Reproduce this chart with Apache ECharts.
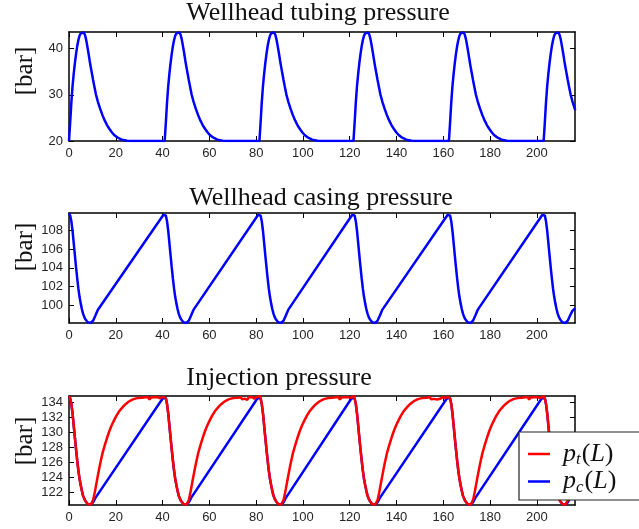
<!DOCTYPE html>
<html>
<head>
<meta charset="utf-8">
<script src="https://cdn.jsdelivr.net/npm/echarts@6/dist/echarts.min.js"></script>
<style>
  html, body { margin: 0; padding: 0; background: #fff; }
  #chart { width: 639px; height: 529px; }
</style>
</head>
<body>
<div id="chart"></div>
<script>
// Gas-lift well simulation: wellhead and injection pressures over time.

// Tick positions
const timeTicks = [0, 20, 40, 60, 80, 100, 120, 140, 160, 180, 200];
const tubingTicks = [20, 30, 40];
const casingTicks = [100, 102, 104, 106, 108];
const injectionTicks = [122, 124, 126, 128, 130, 132, 134];

// Panel titles
const panelTitles = ['Wellhead tubing pressure', 'Wellhead casing pressure', 'Injection pressure'];

// Wellhead tubing pressure [time, bar]
const tubingPressure = [
  [0,20],[0.5,24],[1,28.3],[1.5,31.8],[2,34.5],[2.5,36.8],[3,38.8],[3.5,40.5],[4,41.8],[4.5,42.8],[5,43.3],[5.4,43.55],[5.8,43.6],
  [6.3,43.5],[6.8,43.0],[7.3,42.0],[7.8,40.6],[8.3,39.1],[8.8,37.5],[9.3,36.0],[9.8,34.6],[10.3,33.2],[10.8,31.9],[11.5,30.1],
  [12.3,28.6],[13.3,27.0],[14.3,25.6],[15.3,24.4],[16.3,23.4],[17.3,22.6],[18.3,21.9],[19.3,21.3],[20.3,20.9],[21.3,20.6],
  [22.3,20.35],[23.3,20.2],[24.8,20.05],[26.8,20.0],
  [40.9,20],[41.4,24],[41.9,28.3],[42.4,31.8],[42.9,34.5],[43.4,36.8],[43.9,38.8],[44.4,40.5],[44.9,41.8],[45.4,42.8],[45.9,43.3],[46.3,43.55],[46.7,43.6],
  [47.2,43.5],[47.7,43.0],[48.2,42.0],[48.7,40.6],[49.2,39.1],[49.7,37.5],[50.2,36.0],[50.7,34.6],[51.2,33.2],[51.7,31.9],[52.4,30.1],
  [53.2,28.6],[54.2,27.0],[55.2,25.6],[56.2,24.4],[57.2,23.4],[58.2,22.6],[59.2,21.9],[60.2,21.3],[61.2,20.9],[62.2,20.6],
  [63.2,20.35],[64.2,20.2],[65.7,20.05],[67.7,20.0],
  [81.4,20],[81.9,24],[82.4,28.3],[82.9,31.8],[83.4,34.5],[83.9,36.8],[84.4,38.8],[84.9,40.5],[85.4,41.8],[85.9,42.8],[86.4,43.3],[86.8,43.55],[87.2,43.6],
  [87.7,43.5],[88.2,43.0],[88.7,42.0],[89.2,40.6],[89.7,39.1],[90.2,37.5],[90.7,36.0],[91.2,34.6],[91.7,33.2],[92.2,31.9],[92.9,30.1],
  [93.7,28.6],[94.7,27.0],[95.7,25.6],[96.7,24.4],[97.7,23.4],[98.7,22.6],[99.7,21.9],[100.7,21.3],[101.7,20.9],[102.7,20.6],
  [103.7,20.35],[104.7,20.2],[106.2,20.05],[108.2,20.0],
  [121.6,20],[122.1,24],[122.6,28.3],[123.1,31.8],[123.6,34.5],[124.1,36.8],[124.6,38.8],[125.1,40.5],[125.6,41.8],[126.1,42.8],[126.6,43.3],[127.0,43.55],[127.4,43.6],
  [127.9,43.5],[128.4,43.0],[128.9,42.0],[129.4,40.6],[129.9,39.1],[130.4,37.5],[130.9,36.0],[131.4,34.6],[131.9,33.2],[132.4,31.9],[133.1,30.1],
  [133.9,28.6],[134.9,27.0],[135.9,25.6],[136.9,24.4],[137.9,23.4],[138.9,22.6],[139.9,21.9],[140.9,21.3],[141.9,20.9],[142.9,20.6],
  [143.9,20.35],[144.9,20.2],[146.4,20.05],[148.4,20.0],
  [162.4,20],[162.9,24],[163.4,28.3],[163.9,31.8],[164.4,34.5],[164.9,36.8],[165.4,38.8],[165.9,40.5],[166.4,41.8],[166.9,42.8],[167.4,43.3],[167.8,43.55],[168.2,43.6],
  [168.7,43.5],[169.2,43.0],[169.7,42.0],[170.2,40.6],[170.7,39.1],[171.2,37.5],[171.7,36.0],[172.2,34.6],[172.7,33.2],[173.2,31.9],[173.9,30.1],
  [174.7,28.6],[175.7,27.0],[176.7,25.6],[177.7,24.4],[178.7,23.4],[179.7,22.6],[180.7,21.9],[181.7,21.3],[182.7,20.9],[183.7,20.6],
  [184.7,20.35],[185.7,20.2],[187.2,20.05],[189.2,20.0],
  [202.9,20],[203.4,24],[203.9,28.3],[204.4,31.8],[204.9,34.5],[205.4,36.8],[205.9,38.8],[206.4,40.5],[206.9,41.8],[207.4,42.8],[207.9,43.3],[208.3,43.55],[208.7,43.6],
  [209.2,43.5],[209.7,43.0],[210.2,42.0],[210.7,40.6],[211.2,39.1],[211.7,37.5],[212.2,36.0],[212.7,34.6],[213.2,33.2],[213.7,31.9],[214.4,30.1],
  [215.2,28.6],[216.2,27.0],[216.4,26.7]
];

// Wellhead casing pressure [time, bar]
const casingPressure = [
  [0,109.85],[0.5,109.6],[1,109.0],[1.5,108.0],[2,106.7],[2.5,105.4],[3,104.1],[3.5,102.9],[4,101.8],[4.5,100.9],[5,100.2],[5.5,99.6],
  [6,99.1],[6.5,98.75],[7,98.5],[7.5,98.3],[8,98.18],[8.5,98.12],[9.3,98.1],[10.3,98.35],[11.3,98.9],[12.3,99.5],[40.3,109.65],[40.9,109.85],
  [41.4,109.6],[41.9,109.0],[42.4,108.0],[42.9,106.7],[43.4,105.4],[43.9,104.1],[44.4,102.9],[44.9,101.8],[45.4,100.9],[45.9,100.2],[46.4,99.6],
  [46.9,99.1],[47.4,98.75],[47.9,98.5],[48.4,98.3],[48.9,98.18],[49.4,98.12],[50.2,98.1],[51.2,98.35],[52.2,98.9],[53.2,99.5],[80.8,109.65],[81.4,109.85],
  [81.9,109.6],[82.4,109.0],[82.9,108.0],[83.4,106.7],[83.9,105.4],[84.4,104.1],[84.9,102.9],[85.4,101.8],[85.9,100.9],[86.4,100.2],[86.9,99.6],
  [87.4,99.1],[87.9,98.75],[88.4,98.5],[88.9,98.3],[89.4,98.18],[89.9,98.12],[90.7,98.1],[91.7,98.35],[92.7,98.9],[93.7,99.5],[121.0,109.65],[121.6,109.85],
  [122.1,109.6],[122.6,109.0],[123.1,108.0],[123.6,106.7],[124.1,105.4],[124.6,104.1],[125.1,102.9],[125.6,101.8],[126.1,100.9],[126.6,100.2],[127.1,99.6],
  [127.6,99.1],[128.1,98.75],[128.6,98.5],[129.1,98.3],[129.6,98.18],[130.1,98.12],[130.9,98.1],[131.9,98.35],[132.9,98.9],[133.9,99.5],[161.8,109.65],[162.4,109.85],
  [162.9,109.6],[163.4,109.0],[163.9,108.0],[164.4,106.7],[164.9,105.4],[165.4,104.1],[165.9,102.9],[166.4,101.8],[166.9,100.9],[167.4,100.2],[167.9,99.6],
  [168.4,99.1],[168.9,98.75],[169.4,98.5],[169.9,98.3],[170.4,98.18],[170.9,98.12],[171.7,98.1],[172.7,98.35],[173.7,98.9],[174.7,99.5],[202.3,109.65],[202.9,109.85],
  [203.4,109.6],[203.9,109.0],[204.4,108.0],[204.9,106.7],[205.4,105.4],[205.9,104.1],[206.4,102.9],[206.9,101.8],[207.4,100.9],[207.9,100.2],[208.4,99.6],
  [208.9,99.1],[209.4,98.75],[209.9,98.5],[210.4,98.3],[210.9,98.18],[211.4,98.12],[212.2,98.1],[213.2,98.35],[214.2,98.9],[215.2,99.4],[216.4,99.7]
];

// Injection pressure, casing side p_c(L) [time, bar]
const injectionCasing = [
  [0,134.8],[0.5,134.5],[1,133.75],[1.5,132.55],[2,130.95],[2.5,129.35],[3,127.75],[3.5,126.3],[4,124.95],[4.5,123.85],[5,123.0],[5.5,122.25],
  [6,121.6],[6.5,121.2],[7,120.9],[7.5,120.65],[8,120.5],[8.5,120.43],[9.3,120.4],[10.3,120.7],[11.3,121.3],[40.3,134.6],[40.9,134.8],
  [41.4,134.5],[41.9,133.75],[42.4,132.55],[42.9,130.95],[43.4,129.35],[43.9,127.75],[44.4,126.3],[44.9,124.95],[45.4,123.85],[45.9,123.0],[46.4,122.25],
  [46.9,121.6],[47.4,121.2],[47.9,120.9],[48.4,120.65],[48.9,120.5],[49.4,120.43],[50.2,120.4],[51.2,120.7],[52.2,121.3],[80.8,134.6],[81.4,134.8],
  [81.9,134.5],[82.4,133.75],[82.9,132.55],[83.4,130.95],[83.9,129.35],[84.4,127.75],[84.9,126.3],[85.4,124.95],[85.9,123.85],[86.4,123.0],[86.9,122.25],
  [87.4,121.6],[87.9,121.2],[88.4,120.9],[88.9,120.65],[89.4,120.5],[89.9,120.43],[90.7,120.4],[91.7,120.7],[92.7,121.3],[121.0,134.6],[121.6,134.8],
  [122.1,134.5],[122.6,133.75],[123.1,132.55],[123.6,130.95],[124.1,129.35],[124.6,127.75],[125.1,126.3],[125.6,124.95],[126.1,123.85],[126.6,123.0],[127.1,122.25],
  [127.6,121.6],[128.1,121.2],[128.6,120.9],[129.1,120.65],[129.6,120.5],[130.1,120.43],[130.9,120.4],[131.9,120.7],[132.9,121.3],[161.8,134.6],[162.4,134.8],
  [162.9,134.5],[163.4,133.75],[163.9,132.55],[164.4,130.95],[164.9,129.35],[165.4,127.75],[165.9,126.3],[166.4,124.95],[166.9,123.85],[167.4,123.0],[167.9,122.25],
  [168.4,121.6],[168.9,121.2],[169.4,120.9],[169.9,120.65],[170.4,120.5],[170.9,120.43],[171.7,120.4],[172.7,120.7],[173.7,121.3],[202.3,134.6],[202.9,134.8],
  [203.4,134.5],[203.9,133.75],[204.4,132.55],[204.9,130.95],[205.4,129.35],[205.9,127.75],[206.4,126.3],[206.9,124.95],[207.4,123.85],[207.9,123.0],[208.4,122.25],
  [208.9,121.6],[209.4,121.2],[209.9,120.9],[210.4,120.65],[210.9,120.5],[211.4,120.43],[212.2,120.4],[213.2,120.7],[214.2,121.3],[216.4,122.3]
];

// Injection pressure, tubing side p_t(L) [time, bar]
const injectionTubing = [
  [0,134.8],[0.5,134.5],[1,133.75],[1.5,132.55],[2,130.95],[2.5,129.35],[3,127.75],[3.5,126.3],[4,124.95],[4.5,123.85],[5,123.0],[5.5,122.25],
  [6,121.6],[6.5,121.2],[7,120.9],[7.5,120.65],[8,120.5],[8.5,120.43],[9.3,120.4],
  [9.8,120.55],[10.3,121.0],[10.8,121.7],[11.3,122.5],[12.3,124.2],[13.3,125.8],[14.3,127.2],[15.3,128.3],[16.3,129.3],[17.3,130.2],[18.3,130.95],
  [19.3,131.6],[20.3,132.2],[21.3,132.7],[22.3,133.1],[23.3,133.45],[24.3,133.75],[25.3,134.0],[26.3,134.2],[27.3,134.35],[28.3,134.45],[29.3,134.52],[31.3,134.58],
  [32,134.38],[32.6,134.62],[33.2,134.4],[33.8,134.65],[34.4,134.32],[35,134.6],[35.6,134.45],[36.3,134.64],[37.1,134.42],[38,134.62],[39,134.5],[40.2,134.7],[40.9,134.8],
  [41.4,134.5],[41.9,133.75],[42.4,132.55],[42.9,130.95],[43.4,129.35],[43.9,127.75],[44.4,126.3],[44.9,124.95],[45.4,123.85],[45.9,123.0],[46.4,122.25],
  [46.9,121.6],[47.4,121.2],[47.9,120.9],[48.4,120.65],[48.9,120.5],[49.4,120.43],[50.2,120.4],
  [50.7,120.55],[51.2,121.0],[51.7,121.7],[52.2,122.5],[53.2,124.2],[54.2,125.8],[55.2,127.2],[56.2,128.3],[57.2,129.3],[58.2,130.2],[59.2,130.95],
  [60.2,131.6],[61.2,132.2],[62.2,132.7],[63.2,133.1],[64.2,133.45],[65.2,133.75],[66.2,134.0],[67.2,134.2],[68.2,134.35],[69.2,134.45],[70.2,134.52],[72.2,134.58],
  [73,134.4],[73.5,134.62],[74,134.35],[74.5,134.6],[75,134.45],[75.6,134.65],[76.2,134.3],[76.8,134.6],[77.5,134.5],[78.3,134.66],[79.2,134.45],[80.1,134.65],[80.8,134.7],[81.4,134.8],
  [81.9,134.5],[82.4,133.75],[82.9,132.55],[83.4,130.95],[83.9,129.35],[84.4,127.75],[84.9,126.3],[85.4,124.95],[85.9,123.85],[86.4,123.0],[86.9,122.25],
  [87.4,121.6],[87.9,121.2],[88.4,120.9],[88.9,120.65],[89.4,120.5],[89.9,120.43],[90.7,120.4],
  [91.2,120.55],[91.7,121.0],[92.2,121.7],[92.7,122.5],[93.7,124.2],[94.7,125.8],[95.7,127.2],[96.7,128.3],[97.7,129.3],[98.7,130.2],[99.7,130.95],
  [100.7,131.6],[101.7,132.2],[102.7,132.7],[103.7,133.1],[104.7,133.45],[105.7,133.75],[106.7,134.0],[107.7,134.2],[108.7,134.35],[109.7,134.45],[110.7,134.52],[112.7,134.58],
  [113.4,134.38],[114,134.62],[114.6,134.4],[115.2,134.66],[115.8,134.32],[116.4,134.6],[117,134.45],[117.8,134.64],[118.6,134.42],[119.5,134.62],[120.5,134.55],[121.1,134.7],[121.6,134.8],
  [122.1,134.5],[122.6,133.75],[123.1,132.55],[123.6,130.95],[124.1,129.35],[124.6,127.75],[125.1,126.3],[125.6,124.95],[126.1,123.85],[126.6,123.0],[127.1,122.25],
  [127.6,121.6],[128.1,121.2],[128.6,120.9],[129.1,120.65],[129.6,120.5],[130.1,120.43],[130.9,120.4],
  [131.4,120.55],[131.9,121.0],[132.4,121.7],[132.9,122.5],[133.9,124.2],[134.9,125.8],[135.9,127.2],[136.9,128.3],[137.9,129.3],[138.9,130.2],[139.9,130.95],
  [140.9,131.6],[141.9,132.2],[142.9,132.7],[143.9,133.1],[144.9,133.45],[145.9,133.75],[146.9,134.0],[147.9,134.2],[148.9,134.35],[149.9,134.45],[150.9,134.52],[152.9,134.58],
  [153.6,134.4],[154.2,134.64],[154.8,134.36],[155.4,134.6],[156,134.42],[156.7,134.66],[157.4,134.34],[158.1,134.6],[158.9,134.47],[159.8,134.65],[160.8,134.5],[161.8,134.7],[162.4,134.8],
  [162.9,134.5],[163.4,133.75],[163.9,132.55],[164.4,130.95],[164.9,129.35],[165.4,127.75],[165.9,126.3],[166.4,124.95],[166.9,123.85],[167.4,123.0],[167.9,122.25],
  [168.4,121.6],[168.9,121.2],[169.4,120.9],[169.9,120.65],[170.4,120.5],[170.9,120.43],[171.7,120.4],
  [172.2,120.55],[172.7,121.0],[173.2,121.7],[173.7,122.5],[174.7,124.2],[175.7,125.8],[176.7,127.2],[177.7,128.3],[178.7,129.3],[179.7,130.2],[180.7,130.95],
  [181.7,131.6],[182.7,132.2],[183.7,132.7],[184.7,133.1],[185.7,133.45],[186.7,133.75],[187.7,134.0],[188.7,134.2],[189.7,134.35],[190.7,134.45],[191.7,134.52],[193.7,134.58],
  [194.3,134.38],[194.9,134.62],[195.5,134.4],[196.1,134.65],[196.7,134.33],[197.3,134.6],[198,134.44],[198.8,134.64],[199.6,134.42],[200.5,134.63],[201.5,134.52],[202.3,134.7],[202.9,134.8],
  [203.4,134.5],[203.9,133.75],[204.4,132.55],[204.9,130.95],[205.4,129.35],[205.9,127.75],[206.4,126.3],[206.9,124.95],[207.4,123.85],[207.9,123.0],[208.4,122.25],
  [208.9,121.6],[209.4,121.2],[209.9,120.9],[210.4,120.65],[210.9,120.5],[211.4,120.43],[212.2,120.4],
  [212.7,120.55],[213.2,121.0],[213.7,121.7],[214.2,122.5],[215.2,124.2],[216.2,125.8],[216.4,126.1]
];

const TIME_MAX = 216.3;
const panels = [
  { top: 32, height: 109, yMin: 20, yMax: 43.6, yTicks: tubingTicks, titleX: 318, titleY: 13.5, labelY: 71 },
  { top: 213, height: 110, yMin: 98.1, yMax: 109.87, yTicks: casingTicks, titleX: 321, titleY: 198.5, labelY: 247 },
  { top: 396, height: 109, yMin: 120.36, yMax: 134.8, yTicks: injectionTicks, titleX: 279, titleY: 378.5, labelY: 441 }
];

const frameLine = { show: true, onZero: false, lineStyle: { color: '#000', width: 1.5 } };
const tickLabelStyle = { color: '#262626', fontFamily: 'Liberation Sans', fontSize: 13 };

const grids = [], xAxes = [], yAxes = [], graphics = [];
panels.forEach((p, i) => {
  grids.push({ left: 69, top: p.top, width: 506, height: p.height, show: false });
  [ 'bottom', 'top' ].forEach(pos => {
    xAxes.push({
      type: 'value', gridIndex: i, position: pos, min: 0, max: TIME_MAX,
      axisLine: frameLine,
      axisTick: { show: true, inside: true, length: 5, customValues: timeTicks, lineStyle: { color: '#000', width: 1 } },
      axisLabel: Object.assign({ show: pos === 'bottom', margin: 6, customValues: timeTicks }, tickLabelStyle),
      splitLine: { show: false }
    });
  });
  [ 'left', 'right' ].forEach(pos => {
    yAxes.push({
      type: 'value', gridIndex: i, position: pos, min: p.yMin, max: p.yMax,
      axisLine: frameLine,
      axisTick: { show: true, inside: true, length: 5, customValues: p.yTicks, lineStyle: { color: '#000', width: 1 } },
      axisLabel: Object.assign({ show: pos === 'left', margin: 6, customValues: p.yTicks }, tickLabelStyle),
      splitLine: { show: false }
    });
  });
  graphics.push({
    type: 'text', x: p.titleX, y: p.titleY, silent: true,
    style: { text: panelTitles[i], align: 'center', verticalAlign: 'middle', fill: '#111',
             font: '26px "Liberation Serif"' }
  });
  graphics.push({
    type: 'text', x: 25, y: p.labelY, rotation: Math.PI / 2, silent: true,
    style: { text: '[bar]', align: 'center', verticalAlign: 'middle', fill: '#111',
             font: '25px "Liberation Serif"' }
  });
});

const lineSeries = (name, data, color, idx, z) => ({
  name, type: 'line', data, xAxisIndex: idx * 2, yAxisIndex: idx * 2,
  showSymbol: false, symbol: 'none', smooth: false, clip: true, z,
  lineStyle: { color, width: 2.5 }, itemStyle: { color }
});

const mathRich = {
  g: { width: 8 },
  i: { fontFamily: 'Liberation Serif', fontStyle: 'italic', fontSize: 26, color: '#111' },
  s: { fontFamily: 'Liberation Serif', fontStyle: 'italic', fontSize: 17, color: '#111', padding: [12, 1, 0, 0] },
  n: { fontFamily: 'Liberation Serif', fontSize: 26, color: '#111' }
};

const chart = echarts.init(document.getElementById('chart'), null, { renderer: 'canvas' });
chart.setOption({
  animation: false,
  backgroundColor: '#fff',
  grid: grids,
  xAxis: xAxes,
  yAxis: yAxes,
  graphic: graphics,
  legend: {
    data: ['pt', 'pc'], orient: 'vertical', left: 519, top: 432,
    padding: [9, 40, 4, 9], itemGap: 0, itemWidth: 22, itemHeight: 2.5, icon: 'rect',
    backgroundColor: '#fff', borderColor: '#222', borderWidth: 1.2, borderRadius: 0,
    selectedMode: false,
    textStyle: { lineHeight: 25, rich: mathRich },
    formatter: name => name === 'pt'
      ? '{g|}{i|p}{s|t}{n|(}{i|L}{n|)}'
      : '{g|}{i|p}{s|c}{n|(}{i|L}{n|)}'
  },
  series: [
    lineSeries('tubing', tubingPressure, '#0000ff', 0, 2),
    lineSeries('casing', casingPressure, '#0000ff', 1, 2),
    lineSeries('pc', injectionCasing, '#0000ff', 2, 2),
    lineSeries('pt', injectionTubing, '#ff0000', 2, 3)
  ]
});
</script>
</body>
</html>
